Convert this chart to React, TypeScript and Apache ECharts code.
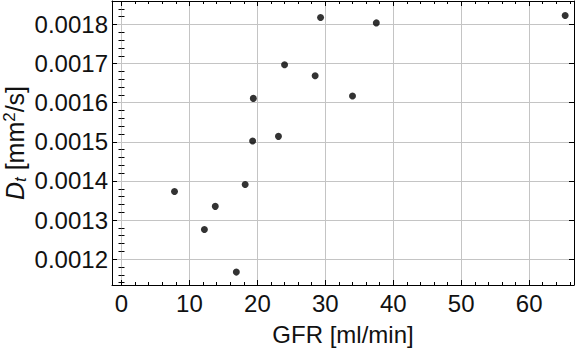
import React, { useEffect, useRef } from "react";
import * as echarts from "echarts";

const gfr = [7.8, 12.2, 13.8, 16.9, 18.2, 19.3, 19.4, 23.1, 24.0, 29.3, 28.5, 34.0, 37.5, 65.3];
const dt = [0.001373, 0.001276, 0.001335, 0.001167, 0.001391, 0.001502, 0.001611, 0.001514, 0.001697, 0.001818, 0.001669, 0.001617, 0.001804, 0.001823];

const xMajor = [0, 10, 20, 30, 40, 50, 60];
const xMinor = [2, 4, 6, 8, 12, 14, 16, 18, 22, 24, 26, 28, 32, 34, 36, 38, 42, 44, 46, 48, 52, 54, 56, 58, 62, 64, 66];
const yMajor = [0.0012, 0.0013, 0.0014, 0.0015, 0.0016, 0.0017, 0.0018];
const yMinor = [0.00114, 0.00116, 0.00118, 0.00122, 0.00124, 0.00126, 0.00128, 0.00132, 0.00134, 0.00136, 0.00138, 0.00142, 0.00144, 0.00146, 0.00148, 0.00152, 0.00154, 0.00156, 0.00158, 0.00162, 0.00164, 0.00166, 0.00168, 0.00172, 0.00174, 0.00176, 0.00178, 0.00182, 0.00184];

const X_MIN = -1.4;
const X_MAX = 66.6;
const Y_MIN = 0.001134;
const Y_MAX = 0.00186;

const FONT = "'Liberation Sans', Arial, sans-serif";
const TXT = "#111";

export default function App() {
  const ref = useRef<HTMLDivElement>(null);
  useEffect(() => {
    if (!ref.current) return;
    const chart = echarts.init(ref.current, undefined, { renderer: "svg" });
    const lineStyle = { color: "#000", width: 1 };
    const xBase = (position: string, extra: any) => ({
      type: "value",
      min: X_MIN,
      max: X_MAX,
      position,
      axisLine: { show: false },
      axisLabel: { show: false },
      splitLine: { show: false },
      ...extra,
    });
    const yBase = (position: string, extra: any) => ({
      type: "value",
      min: Y_MIN,
      max: Y_MAX,
      position,
      axisLine: { show: false },
      axisLabel: { show: false },
      splitLine: { show: false },
      ...extra,
    });
    chart.setOption({
      animation: false,
      backgroundColor: "#fff",
      grid: { left: 112, right: 2, top: 1, bottom: 65, containLabel: false, outerBoundsMode: "none" },
      xAxis: [
        xBase("bottom", {
          splitNumber: 7,
          axisLine: { show: true, onZero: false, lineStyle },
          axisLabel: {
            show: true,
            showMinLabel: false,
            showMaxLabel: false,
            margin: 6,
            fontSize: 24,
            fontFamily: FONT,
            color: TXT,
          },
          axisTick: { show: true, inside: true, length: 5, customValues: xMajor, lineStyle },
          splitLine: { show: true, lineStyle: { color: "#c4c4c4", width: 1 } },
          name: "GFR [ml/min]",
          nameLocation: "middle",
          nameGap: 37,
          nameMoveOverlap: false,
          nameTextStyle: { fontSize: 24, fontFamily: FONT, color: TXT },
        }),
        xBase("bottom", {
          axisTick: { show: true, inside: true, length: 3, customValues: xMinor, lineStyle },
        }),
        xBase("top", {
          axisLine: { show: true, onZero: false, lineStyle },
          axisTick: { show: true, inside: true, length: 5, customValues: xMajor, lineStyle },
        }),
        xBase("top", {
          axisTick: { show: true, inside: true, length: 3, customValues: xMinor, lineStyle },
        }),
      ],
      yAxis: [
        yBase("left", {
          splitNumber: 7,
          axisLine: { show: true, onZero: false, lineStyle },
          axisLabel: {
            show: true,
            showMinLabel: false,
            showMaxLabel: false,
            margin: 4,
            fontSize: 24,
            fontFamily: FONT,
            color: TXT,
            formatter: (v: number) => v.toFixed(4),
          },
          axisTick: { show: true, inside: true, length: 5, customValues: yMajor, lineStyle },
          splitLine: { show: true, lineStyle: { color: "#c4c4c4", width: 1 } },
          name: "{i|D}{sub|t} [mm{sup|2}/s]",
          nameLocation: "middle",
          nameRotate: 90,
          nameGap: 83,
          nameMoveOverlap: false,
          nameTextStyle: {
            fontSize: 25,
            fontFamily: FONT,
            color: TXT,
            lineHeight: 28,
            rich: {
              i: { fontSize: 25, fontStyle: "italic", fontFamily: FONT, color: TXT, lineHeight: 28 },
              sub: { fontSize: 17, fontStyle: "italic", fontFamily: FONT, color: TXT, verticalAlign: "bottom", lineHeight: 24 },
              sup: { fontSize: 17, fontFamily: FONT, color: TXT, verticalAlign: "top", lineHeight: 28 },
            },
          },
        }),
        yBase("left", {
          axisTick: { show: true, inside: true, length: 3, customValues: yMinor, lineStyle },
        }),
        yBase("right", {
          axisLine: { show: true, onZero: false, lineStyle },
          axisTick: { show: true, inside: true, length: 5, customValues: yMajor, lineStyle },
        }),
        yBase("right", {
          axisTick: { show: true, inside: true, length: 3, customValues: yMinor, lineStyle },
        }),
      ],
      series: [
        {
          type: "scatter",
          xAxisIndex: 0,
          yAxisIndex: 0,
          symbol: "circle",
          symbolSize: 7,
          itemStyle: { color: "#000" },
          data: gfr.map((x, i) => [x, dt[i]]),
        },
      ],
    });
    return () => chart.dispose();
  }, []);
  return <div ref={ref} style={{ width: 576, height: 350, position: "absolute", left: 0, top: 0 }} />;
}
